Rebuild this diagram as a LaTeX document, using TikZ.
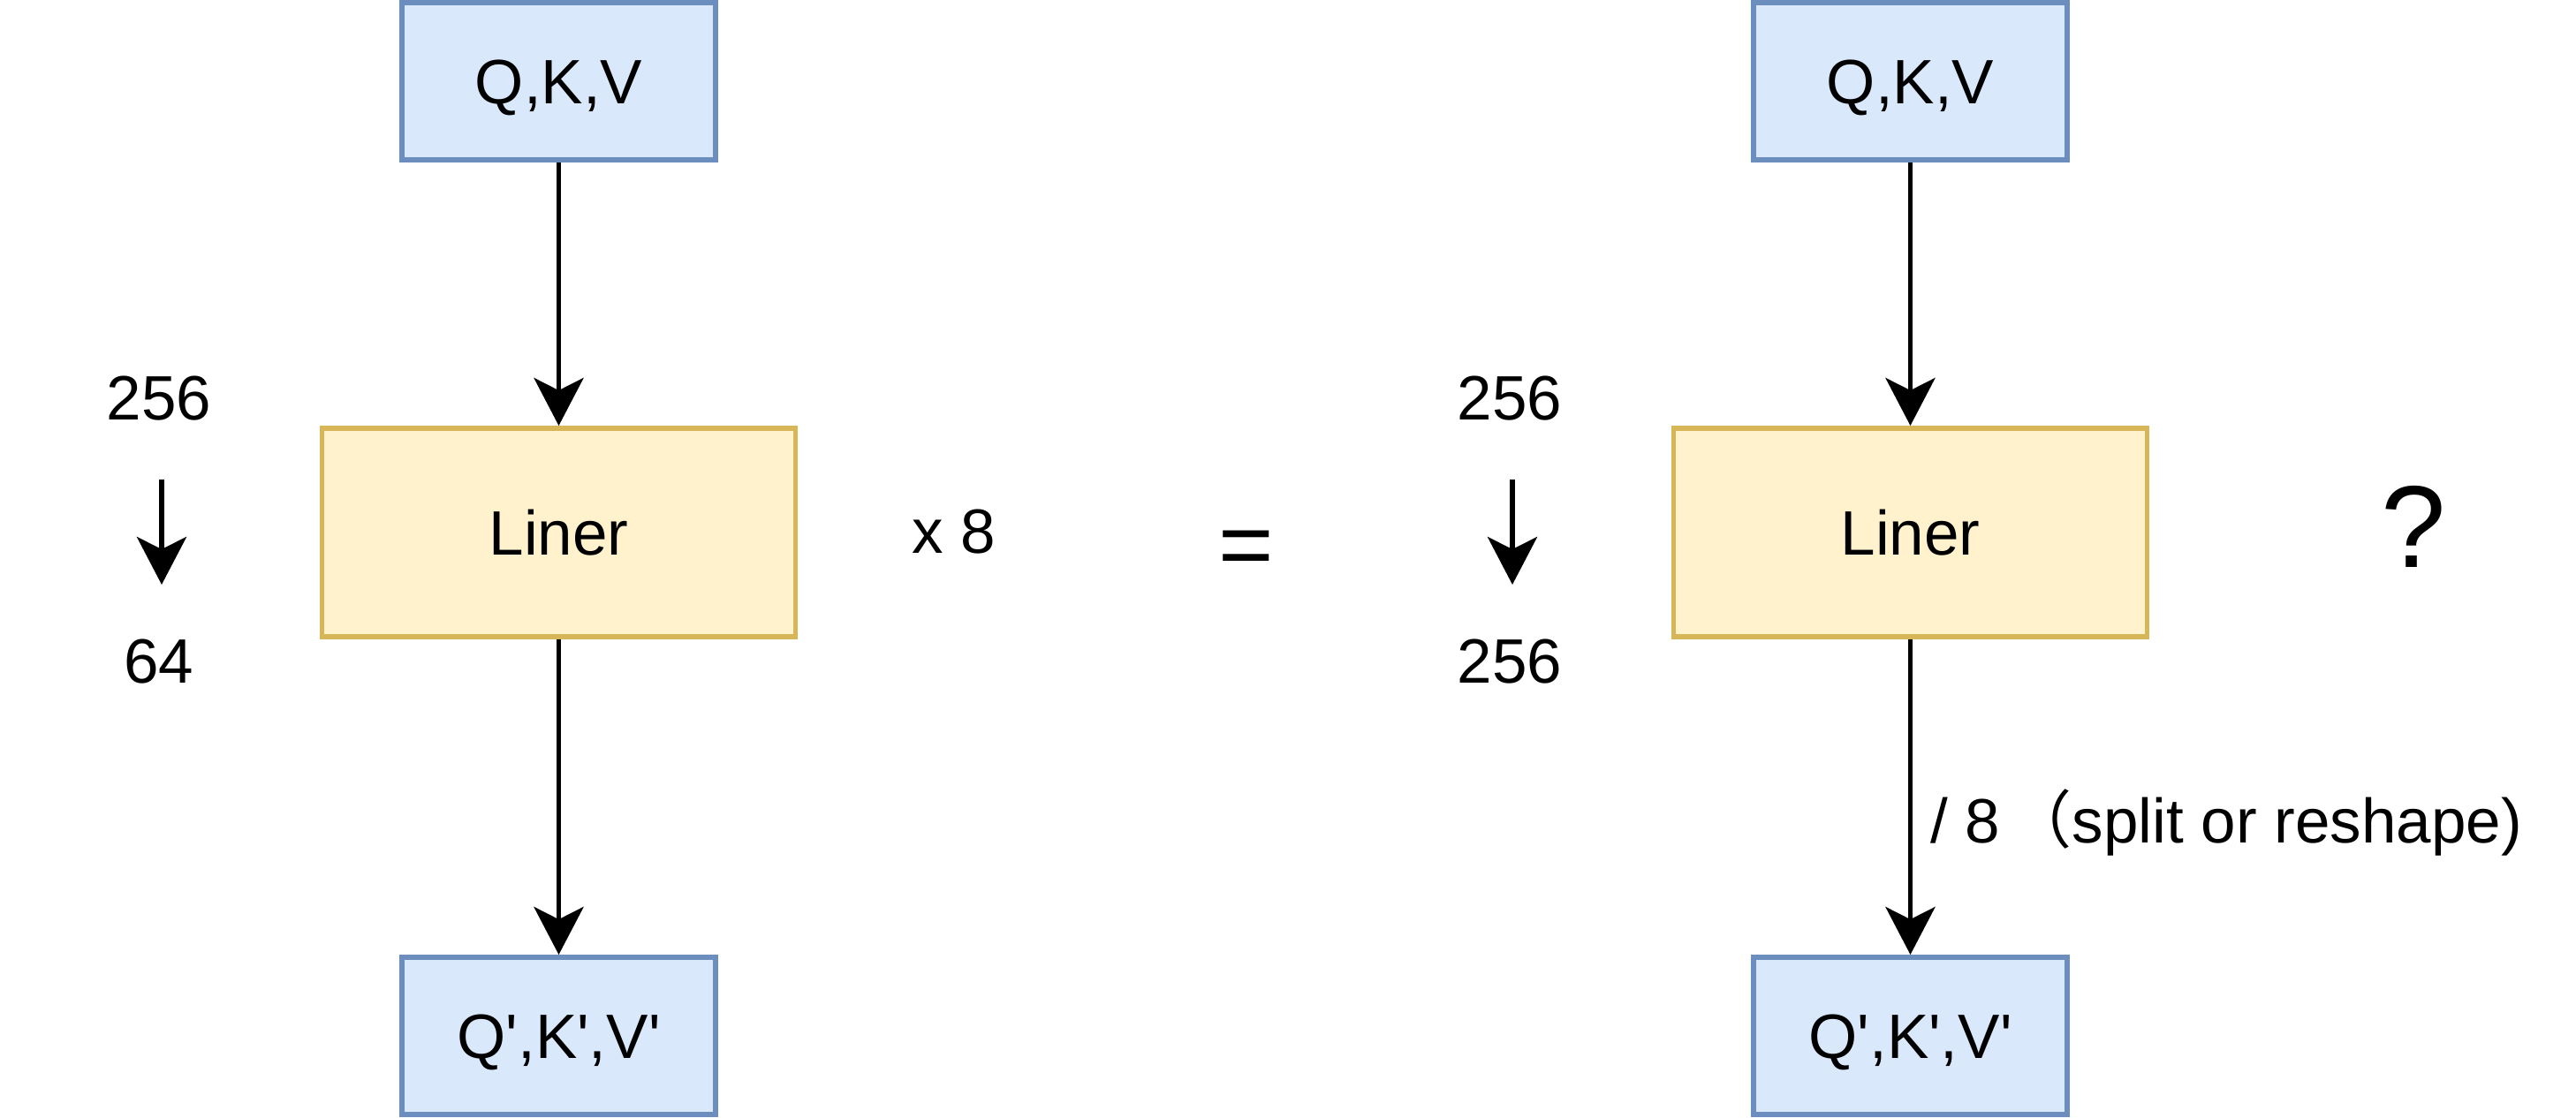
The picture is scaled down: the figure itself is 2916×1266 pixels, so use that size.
\documentclass[tikz,border=0pt]{standalone}
\usepackage{fontspec}
\setmainfont{Liberation Sans}
\newfontfamily\cjk{Noto Sans CJK SC}
\usetikzlibrary{arrows.meta}
\definecolor{bluefill}{HTML}{DAE8FC}
\definecolor{bluedraw}{HTML}{6C8EBF}
\definecolor{yelfill}{HTML}{FFF2CC}
\definecolor{yeldraw}{HTML}{D6B656}
\newcommand{\sq}{\textquotesingle}
\tikzset{
  basebox/.style={rectangle, line width=5.9pt, inner sep=0pt, text height=51pt, text depth=0pt,
    font=\fontsize{71}{85}\selectfont},
  bluebox/.style={basebox, draw=bluedraw, fill=bluefill, minimum width=355pt, minimum height=178pt},
  linerbox/.style={basebox, draw=yeldraw, fill=yelfill, minimum width=536pt, minimum height=236pt},
  lbl/.style={anchor=base, inner sep=0pt, font=\fontsize{71}{85}\selectfont},
  conn/.style={line width=5.9pt, -{Stealth[length=54pt, width=56pt, inset=14pt]}},
}
\begin{document}
\begin{tikzpicture}[x=1pt, y=-1pt]
\useasboundingbox (0,0) rectangle (2916,1266);
% left diagram
\node[bluebox] (qkvL) at (632.5,92) {Q,K,V};
\node[linerbox] (linL) at (632.5,603) {Liner};
\node[bluebox] (outL) at (632.5,1173) {Q\sq,K\sq,V\sq};
\draw[conn] (qkvL) -- (linL);
\draw[conn] (linL) -- (outL);
\node[lbl] (inL) at (180,475) {256};
\node[lbl] (dimL) at (180,773) {64};
\coordinate (aL1) at (183,543);
\coordinate (aL2) at (183,662);
\draw[conn] (aL1) -- (aL2);
\node[lbl] (times) at (1080,626) {x 8};
% equals
\node[anchor=base, inner sep=0pt, font=\fontsize{107}{120}\selectfont] (eq) at (1411,653) {=};
% right diagram
\node[bluebox] (qkvR) at (2162.5,92) {Q,K,V};
\node[linerbox] (linR) at (2162.5,603) {Liner};
\node[bluebox] (outR) at (2162.5,1173) {Q\sq,K\sq,V\sq};
\draw[conn] (qkvR) -- (linR);
\draw[conn] (linR) -- (outR);
\node[lbl] (inR) at (1709,475) {256};
\node[lbl] (dimR) at (1709,773) {256};
\coordinate (aR1) at (1712,543);
\coordinate (aR2) at (1712,662);
\draw[conn] (aR1) -- (aR2);
\node[anchor=base, inner sep=0pt, font=\fontsize{132}{150}\selectfont] (qm) at (2732,642) {?};
\node[lbl, anchor=base west] (split) at (2185,954) {/ 8 \kern-9pt{\cjk （}split or reshape)};
\end{tikzpicture}
\end{document}
